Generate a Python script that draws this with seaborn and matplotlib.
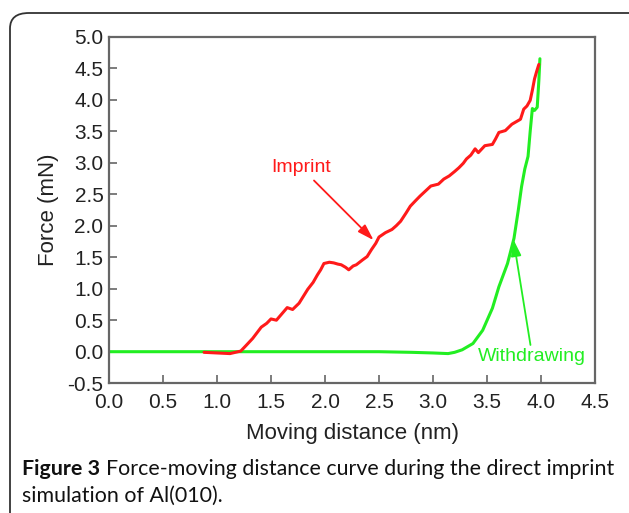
import matplotlib
matplotlib.use("Agg")
import matplotlib.pyplot as plt
import seaborn as sns
import pandas as pd
from matplotlib.patches import FancyBboxPatch

# ---- data ----
imprint_x = [0.88, 1.00, 1.12, 1.22, 1.27, 1.33, 1.37, 1.41, 1.46, 1.50, 1.55, 1.60, 1.65, 1.70,
             1.76, 1.80, 1.84, 1.89, 1.93, 1.96, 1.99, 2.04, 2.08, 2.12, 2.15, 2.19, 2.22, 2.26,
             2.29, 2.35, 2.39, 2.43, 2.47, 2.50, 2.56, 2.62, 2.66, 2.70, 2.75, 2.79, 2.84, 2.88,
             2.93, 2.98, 3.05, 3.10, 3.15, 3.20, 3.24, 3.28, 3.31, 3.35, 3.39, 3.42, 3.48, 3.55,
             3.58, 3.61, 3.67, 3.73, 3.78, 3.81, 3.84, 3.87, 3.90, 3.92, 3.94, 3.96, 3.98]
imprint_y = [-0.01, -0.02, -0.03, 0.01, 0.10, 0.21, 0.30, 0.39, 0.45, 0.52, 0.50, 0.60, 0.70, 0.67,
             0.77, 0.88, 0.99, 1.10, 1.22, 1.30, 1.40, 1.42, 1.41, 1.39, 1.38, 1.34, 1.30, 1.36,
             1.38, 1.46, 1.51, 1.62, 1.72, 1.82, 1.89, 1.94, 2.00, 2.07, 2.20, 2.31, 2.40, 2.47,
             2.55, 2.63, 2.66, 2.74, 2.79, 2.86, 2.92, 2.99, 3.06, 3.12, 3.22, 3.16, 3.27, 3.29,
             3.38, 3.48, 3.51, 3.61, 3.66, 3.69, 3.85, 3.90, 3.99, 4.15, 4.33, 4.45, 4.56]

withdraw_x = [0.00, 0.50, 1.00, 1.50, 2.00, 2.50, 2.80, 3.00, 3.14, 3.20, 3.27, 3.37, 3.46, 3.55,
              3.61, 3.69, 3.75, 3.79, 3.82, 3.85, 3.88, 3.90, 3.92, 3.94, 3.965, 3.98, 3.99]
withdraw_y = [0.00, 0.00, 0.00, 0.00, 0.00, 0.00, -0.01, -0.02, -0.03, -0.01, 0.03, 0.13, 0.34, 0.69,
              1.03, 1.40, 1.80, 2.25, 2.62, 2.90, 3.10, 3.50, 3.86, 3.83, 3.88, 4.30, 4.65]

x_ticks = [0.0, 0.5, 1.0, 1.5, 2.0, 2.5, 3.0, 3.5, 4.0, 4.5]
y_ticks = [-0.5, 0.0, 0.5, 1.0, 1.5, 2.0, 2.5, 3.0, 3.5, 4.0, 4.5, 5.0]

df_imp = pd.DataFrame({"x": imprint_x, "y": imprint_y})
df_wd = pd.DataFrame({"x": withdraw_x, "y": withdraw_y})

sns.set_theme(style="white")
plt.rcParams['font.family'] = ['Liberation Sans', 'DejaVu Sans']

RED = '#ff1a1a'
GREEN = '#22ee22'
SPINE = '#666666'

fig = plt.figure(figsize=(6.29, 5.13), dpi=100)
fig.patch.set_facecolor('white')

# rounded frame
frame = FancyBboxPatch((10 / 629, -0.05), 1.2, 1 - 13 / 513 + 0.05,
                       boxstyle="round,pad=0,rounding_size=0.03",
                       transform=fig.transFigure, fill=False,
                       edgecolor='#333333', linewidth=1.3, clip_on=False)
fig.add_artist(frame)

ax = fig.add_axes([109 / 629, 1 - 383.2 / 513, (595 - 109) / 629, (383.2 - 36.7) / 513])

sns.lineplot(data=df_wd, x="x", y="y", sort=False, estimator=None, color=GREEN,
             linewidth=2.2, ax=ax)
sns.lineplot(data=df_imp, x="x", y="y", sort=False, estimator=None, color=RED,
             linewidth=2.2, ax=ax)

ax.set_xlim(0, 4.5)
ax.set_ylim(-0.5, 5.0)
ax.set_xticks(x_ticks)
ax.set_yticks(y_ticks)
ax.set_xticklabels([f"{v:.1f}" for v in x_ticks])
ax.set_yticklabels([f"{v:.1f}" for v in y_ticks])
ax.tick_params(axis='both', direction='in', length=6, width=1.2, color=SPINE,
               labelsize=15, labelcolor='#222222', pad=4, bottom=True, left=True,
               top=False, right=False)
ax.tick_params(axis='x', pad=7)
for s in ax.spines.values():
    s.set_color(SPINE)
    s.set_linewidth(1.6)

ax.set_xlabel("Moving distance (nm)", fontsize=16, color='#222222', labelpad=8)
ax.set_ylabel("Force (mN)", fontsize=16, color='#222222', labelpad=6)

ax.annotate("Imprint", xy=(2.45, 1.77), xytext=(1.78, 2.92), color=RED, fontsize=14,
            ha='center', va='center',
            arrowprops=dict(arrowstyle='-|>,head_length=0.7,head_width=0.22',
                            color=RED, lw=1.3, shrinkA=1, shrinkB=0))
ax.annotate("Withdrawing", xy=(3.745, 1.78), xytext=(3.92, -0.08), color=GREEN, fontsize=14,
            ha='center', va='center',
            arrowprops=dict(arrowstyle='-|>,head_length=0.7,head_width=0.22',
                            color=GREEN, lw=1.3, shrinkA=0, shrinkB=0))

# caption
cap_font = ['Lato', 'DejaVu Sans']
t1 = fig.text(22 / 629, 1 - 475 / 513, "Figure 3", fontsize=14, fontweight='bold',
              family=cap_font, color='#111111', va='baseline')
fig.canvas.draw()
r = fig.canvas.get_renderer()
bb = t1.get_window_extent(r)
space = 5
t2 = fig.text((bb.x1 + space) / 629, 1 - 475 / 513,
              "Force-moving distance curve during the direct imprint", fontsize=14,
              family=cap_font, color='#111111', va='baseline')
fig.canvas.draw()
bb2 = t2.get_window_extent(r)
# fit the line width to the reference (ends ~x=613)
scale = (613 - 22) / (bb2.x1 - bb.x0)
fs = 14 * scale
t1.set_fontsize(fs)
fig.canvas.draw()
bb = t1.get_window_extent(r)
t2.set_fontsize(fs)
t2.set_x((bb.x1 + space * scale) / 629)
fig.text(22 / 629, 1 - 502 / 513, "simulation of Al(010).", fontsize=fs,
         family=cap_font, color='#111111', va='baseline')

fig.savefig("out.png", dpi=100, facecolor='white')
